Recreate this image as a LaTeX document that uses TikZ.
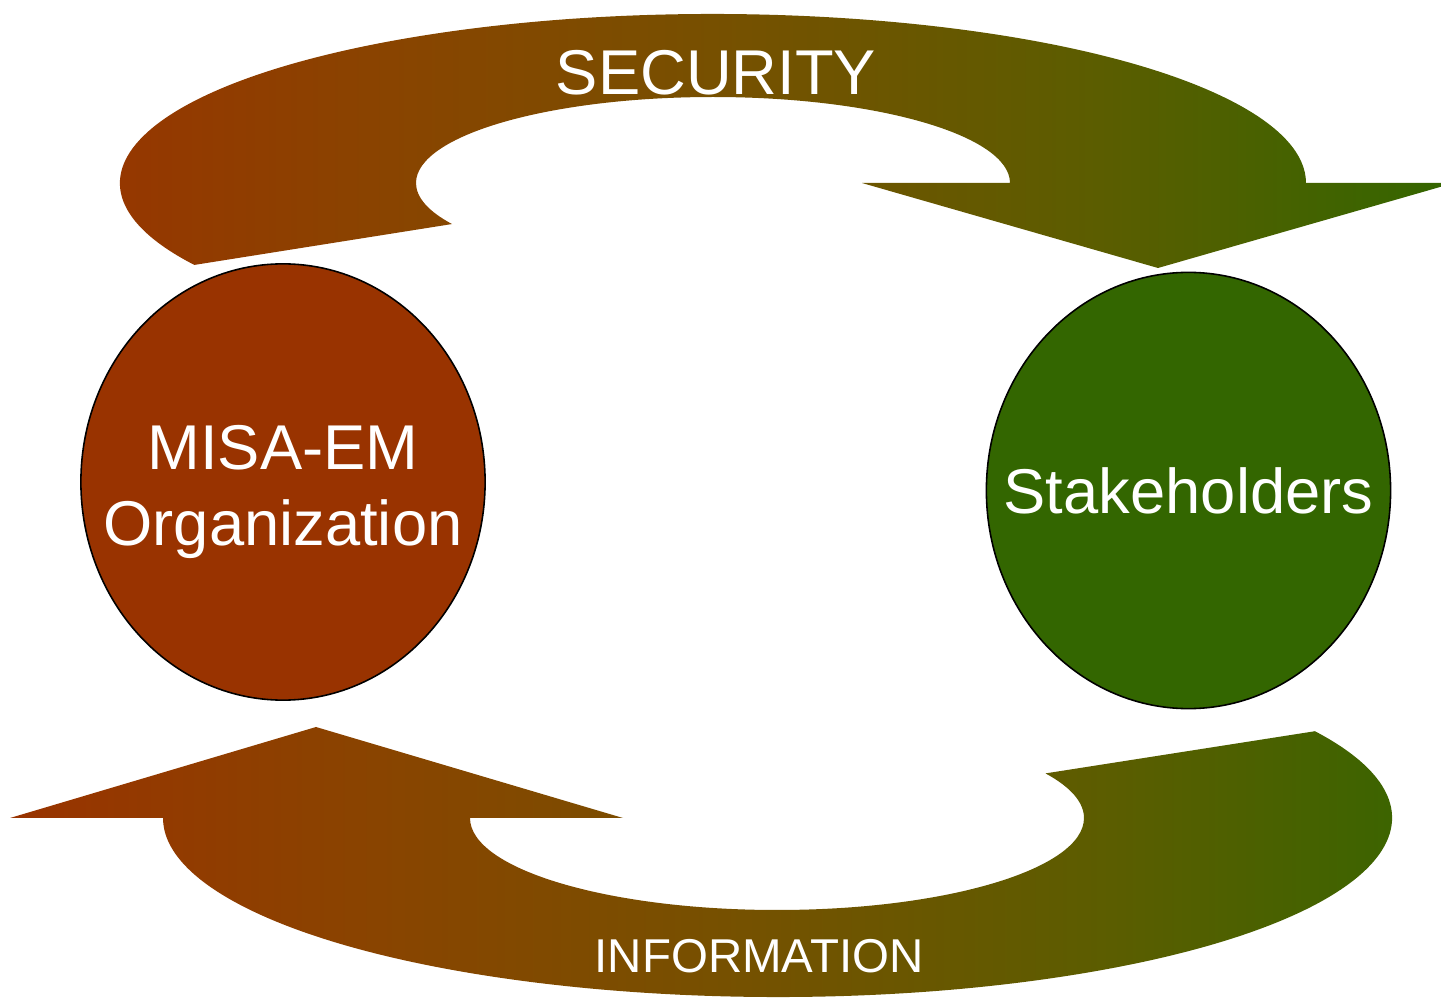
\documentclass[tikz,border=0pt]{standalone}
\usepackage{fontspec}
\setmainfont{Liberation Sans}
\usepackage{tikz}
\usepackage{xcolor}
\usetikzlibrary{shapes.geometric}

\definecolor{misared}{HTML}{993300}
\definecolor{misagreen}{HTML}{336600}
\definecolor{bandqa}{RGB}{137,68,0}
\definecolor{bandmid}{RGB}{117,81,0}
\definecolor{bandqb}{RGB}{91,93,0}
\pgfdeclarehorizontalshading{bandshade}{100bp}{color(0bp)=(misared); color(25bp)=(misared);
  color(37.5bp)=(bandqa); color(50bp)=(bandmid); color(62.5bp)=(bandqb);
  color(75bp)=(misagreen); color(100bp)=(misagreen)}

\tikzset{
  party/.style={ellipse, draw=black, line width=0.45pt, minimum width=4.04cm,
    minimum height=4.36cm, inner sep=0pt},
  partytext/.style={text=white, align=center, inner sep=0pt,
    font=\fontsize{18}{21.5}\selectfont},
  band/.style={shading=bandshade, draw=none},
  bandtext/.style={text=white, anchor=base, inner sep=0pt}
}

\begin{document}
\begin{tikzpicture}[x=0.01cm,y=0.01cm]

\useasboundingbox (0,0) rectangle (1441,999);
\clip (0,0) rectangle (1441,999);

% top arrow
\shade[band] (713,816) ++(209:593 and 169) arc [start angle=209, end angle=0, x radius=593, y radius=169]
  -- (1454,816) -- (1158,731) -- (862,816) -- (1010,816)
  arc [start angle=0, end angle=208.5, x radius=297, y radius=86] -- cycle;

% bottom arrow
\shade[band] (777.5,181) ++(29:614.5 and 179) arc [start angle=29, end angle=-180, x radius=614.5, y radius=179]
  -- (10,181) -- (316,272) -- (623,181) -- (470,181)
  arc [start angle=180, end angle=389, x radius=307, y radius=92] -- cycle;

\node[bandtext, font=\fontsize{18}{21}\selectfont] (sec) at (716,904) {SECURITY};
\node[bandtext, font=\fontsize{13.5}{16}\selectfont] (info) at (759,26) {INFORMATION};

\node[party, fill=misared, label={[partytext, yshift=-0.1cm]center:{MISA-EM\\Organization}}] (org) at (283,517) {};
\node[party, fill=misagreen, label={[partytext]center:Stakeholders}] (stake) at (1188.5,508.5) {};

\end{tikzpicture}
\end{document}
